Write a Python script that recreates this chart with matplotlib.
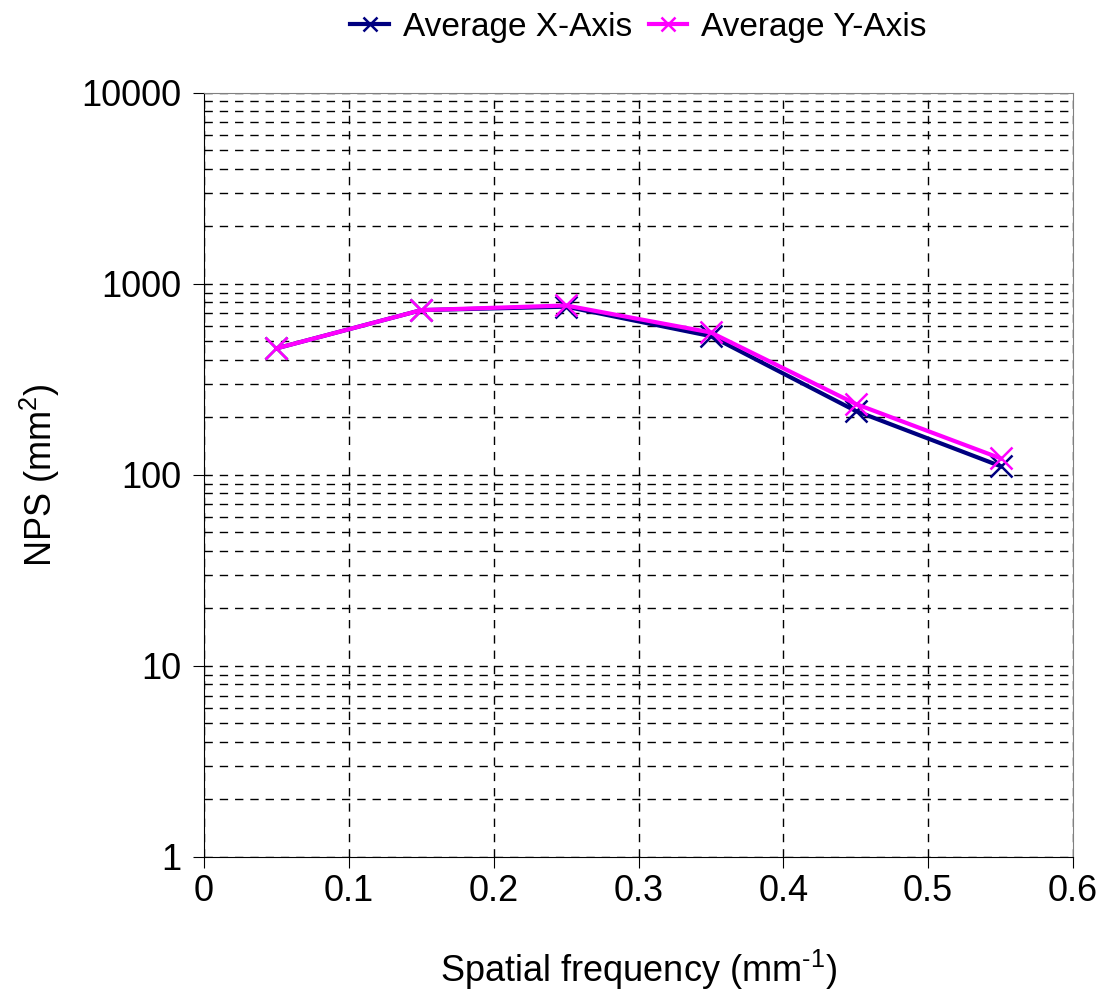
import numpy as np
import matplotlib.pyplot as plt
from matplotlib.ticker import LogLocator, NullFormatter

plt.rcParams['font.family'] = ['Liberation Sans', 'DejaVu Sans']
plt.rcParams['mathtext.fontset'] = 'custom'
plt.rcParams['mathtext.rm'] = 'Liberation Sans'
plt.rcParams['mathtext.it'] = 'Liberation Sans'

freq = [0.05, 0.15, 0.25, 0.35, 0.45, 0.55]
nps_x = [459, 728, 759, 532, 216, 111]
nps_y = [459, 728, 770, 556, 235, 122]

fig = plt.figure(figsize=(11.04, 10.06), dpi=100)
ax = fig.add_axes([204 / 1104, 1 - 857 / 1006, (1073 - 204) / 1104, (857 - 92.7) / 1006])

ax.plot(freq, nps_x, color='#000080', lw=3, marker='x', ms=16, mew=1.8, label='Average X-Axis', zorder=3)
ax.plot(freq, nps_y, color='#FF00FF', lw=3, marker='x', ms=16, mew=1.8, label='Average Y-Axis', zorder=4)

ax.set_yscale('log')
ax.set_ylim(1, 10000)
ax.set_xlim(0, 0.6)
ax.set_xticks(np.arange(0, 0.61, 0.1))
ax.set_xticklabels(['0', '0.1', '0.2', '0.3', '0.4', '0.5', '0.6'])
ax.set_yticks([1, 10, 100, 1000, 10000])
ax.set_yticklabels(['1', '10', '100', '1000', '10000'])
ax.yaxis.set_minor_locator(LogLocator(base=10, subs=np.arange(2, 10)))
ax.yaxis.set_minor_formatter(NullFormatter())
ax.tick_params(axis='y', which='minor', length=0)
ax.tick_params(axis='y', which='major', labelsize=26, length=8, direction='out', pad=8)
ax.tick_params(axis='x', which='major', labelsize=26, length=8, direction='out', pad=4)

ax.grid(True, which='both', axis='y', color='black', ls=(0, (6, 5)), lw=1)
ax.grid(True, which='major', axis='x', color='black', ls=(0, (6, 5)), lw=1)
ax.set_axisbelow(True)

for s in ['top', 'right']:
    ax.spines[s].set_color('#808080')
for s in ['left', 'bottom']:
    ax.spines[s].set_color('black')

ax.set_xlabel('Spatial frequency (mm$^{\\text{-1}}$)', fontsize=26, labelpad=28)
ax.set_ylabel('NPS (mm$^{\\text{2}}$)', fontsize=26, labelpad=14)

leg = ax.legend(loc='center', bbox_to_anchor=(0.5, 1 + (92.7 - 27) / 764.3), ncol=2, frameon=False,
                fontsize=24, handlelength=1.15, columnspacing=0.5, handletextpad=0.42, borderaxespad=0,
                markerscale=0.6)

fig.savefig('out.png', dpi=100)
